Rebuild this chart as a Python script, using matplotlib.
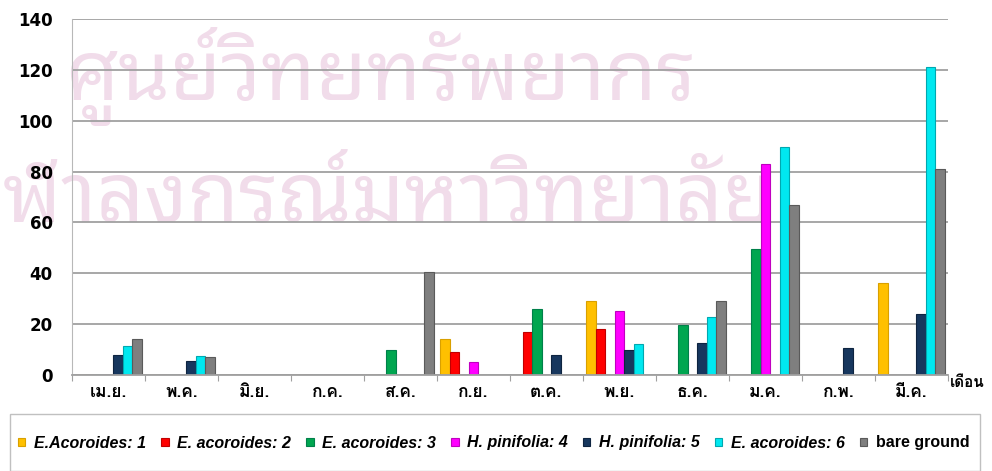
import matplotlib
matplotlib.use("Agg")
import matplotlib.pyplot as plt
from matplotlib.patches import Rectangle
import numpy as np

months = ["เม.ย.", "พ.ค.", "มิ.ย.", "ก.ค.", "ส.ค.", "ก.ย.",
          "ต.ค.", "พ.ย.", "ธ.ค.", "ม.ค.", "ก.พ.", "มี.ค."]
series_names = ["E.Acoroides: 1", "E. acoroides: 2", "E. acoroides: 3",
                "H. pinifolia: 4", "H. pinifolia: 5", "E. acoroides: 6",
                "bare ground"]
colors = ["#FFC000", "#FF0000", "#00A650", "#FF00FF", "#17375E", "#00E8F0", "#7F7F7F"]
edges = ["#D9A000", "#C00000", "#00804A", "#C000C0", "#0E2440", "#00A8B0", "#5A5A5A"]

ea1 = [0, 0, 0, 0, 0, 14, 0, 29, 0, 0, 0, 36]
ea2 = [0, 0, 0, 0, 0, 9, 17, 18, 0, 0, 0, 0]
ea3 = [0, 0, 0, 0, 10, 0, 26, 0, 19.5, 49.5, 0, 0]
hp4 = [0, 0, 0, 0, 0, 5, 0, 25, 0, 83, 0, 0]
hp5 = [8, 5.5, 0, 0, 0, 0, 8, 10, 12.5, 0, 10.5, 24]
ea6 = [11.5, 7.5, 0, 0, 0, 0, 0, 12, 23, 89.5, 0, 121]
bare = [14, 7, 0, 0, 40.5, 0, 0, 0, 29, 67, 0, 81]
values = [ea1, ea2, ea3, hp4, hp5, ea6, bare]

thai = ["Loma", "Garuda", "Noto Sans Thai", "DejaVu Sans"]

fig = plt.figure(figsize=(9.92, 4.71), dpi=100)

# ลายน้ำสีชมพูจาง ๆ ด้านหลังกราฟ
wm = dict(family=["Noto Sans Thai Looped", "Noto Sans Thai"], fontsize=60,
          color="#F1DCEA", va="baseline", ha="left", zorder=-5)
fig.text(65 / 992, 1 - 100 / 471, "ศูนย์วิทยทรัพยากร", **wm)
fig.text(-42 / 992, 1 - 222 / 471, "จุฬาลงกรณ์มหาวิทยาลัย", **wm)

ax = fig.add_axes([0.0726, 0.2038, 0.883, 0.756])
ax.set_facecolor("none")

x = np.arange(len(months))
w = 0.13
for i, (vals, c, ec, name) in enumerate(zip(values, colors, edges, series_names)):
    ax.bar(x + (i - 3) * w, vals, w, color=c, edgecolor=ec, linewidth=0.8, label=name)

ax.set_xlim(-0.5, 11.5)
ax.set_ylim(0, 140)
ax.set_yticks(range(0, 141, 20))
ax.yaxis.grid(True, color="#a0a0a0", linewidth=1.3)
ax.set_axisbelow(True)
for s in ["top", "right"]:
    ax.spines[s].set_visible(False)
ax.spines["left"].set_color("#b8b8b8")
ax.spines["bottom"].set_color("#a0a0a0")
ax.spines["bottom"].set_linewidth(1.3)
ax.tick_params(axis="y", length=0, pad=14)
for lab in ax.get_yticklabels():
    lab.set_fontweight("bold")
    lab.set_fontsize(12)

# เส้นแบ่งเดือนเป็น major tick, ชื่อเดือนเป็น minor tick
ax.set_xticks(np.arange(-0.5, 12, 1))
ax.set_xticklabels([])
ax.set_xticks(x, minor=True)
ax.set_xticklabels(months, minor=True, family=thai, fontweight="bold", fontsize=12.5)
ax.tick_params(axis="x", which="major", length=4, color="#a0a0a0")
ax.tick_params(axis="x", which="minor", length=0, pad=7)

fig.text(950 / 992, 1 - 383 / 471, "เดือน", family=thai, fontweight="bold",
         fontsize=11, ha="left", va="center")

# กรอบคำอธิบายสัญลักษณ์
fig.patches.append(Rectangle((10 / 992, 0.0), 970 / 992, 57 / 471, transform=fig.transFigure,
                             fill=False, edgecolor="#c0c0c0", linewidth=1))
handles, labels = ax.get_legend_handles_labels()
leg = fig.legend(handles, labels, loc="center", bbox_to_anchor=(494 / 992, 28 / 471),
                 ncol=7, frameon=False, handlelength=0.45, handleheight=0.45,
                 handletextpad=0.55, columnspacing=0.95,
                 prop=dict(family="Liberation Sans", size=11.5, weight="bold"))
for t in leg.get_texts():
    if t.get_text() != "bare ground":
        t.set_style("italic")

fig.savefig("out.png", dpi=100)
